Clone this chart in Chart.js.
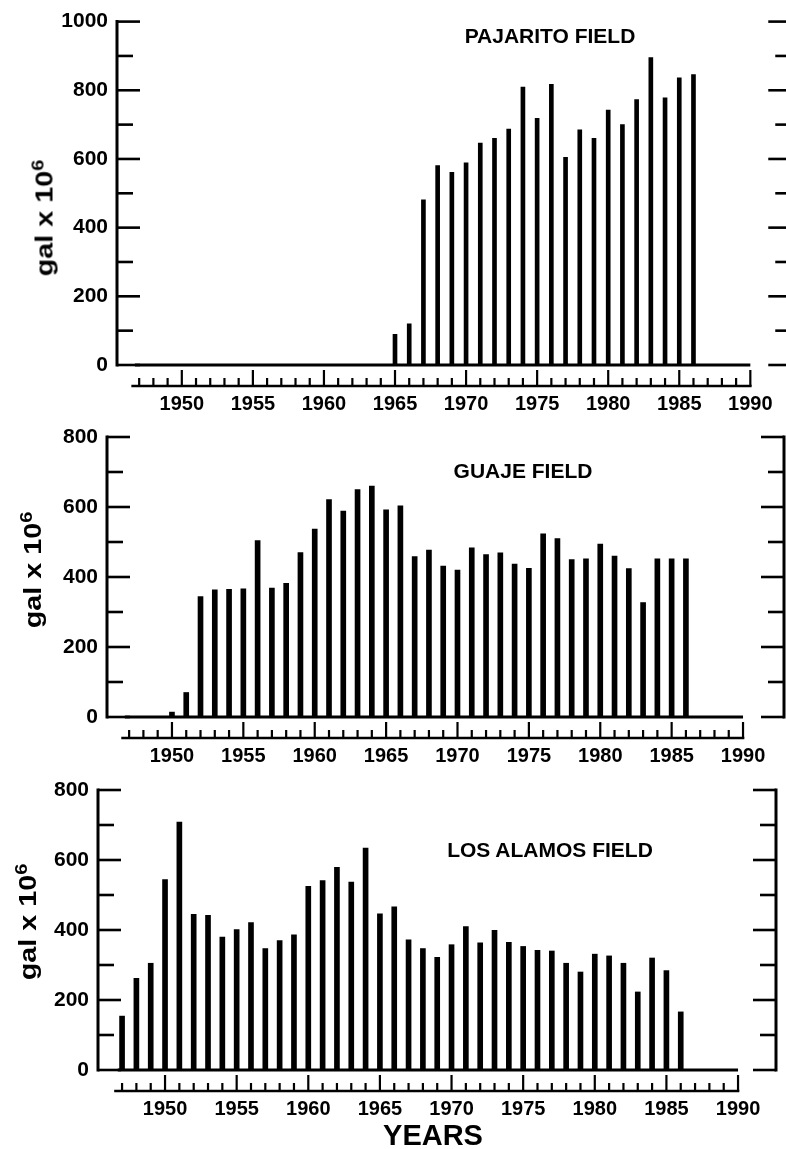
<!DOCTYPE html>
<html>
<head>
<meta charset="utf-8">
<script src="https://cdn.jsdelivr.net/npm/chart.js@4.4.1/dist/chart.umd.min.js"></script>
<style>
html,body{margin:0;padding:0;background:#fff;overflow:hidden;width:786px;height:1149px;position:relative;}
canvas{position:absolute;left:0;top:0;}
.t{position:absolute;font-family:"Liberation Sans",Arial,Helvetica,sans-serif;font-weight:bold;color:#000;white-space:nowrap;transform:translate(-50%,-50%);line-height:1;}
.ft{font-size:21px;}
.yt{font-size:23px;transform:translate(-50%,-50%) rotate(-90deg) scaleX(1.25);}
.yt sup{font-size:16px;position:relative;top:-3px;vertical-align:top;}
.xt{font-size:29px;}
</style>
</head>
<body>
<canvas id="c1" width="800" height="1149"></canvas>
<canvas id="c2" width="800" height="1149"></canvas>
<canvas id="c3" width="800" height="1149"></canvas>

<div class="t ft" style="left:550px;top:35px;">PAJARITO FIELD</div>
<div class="t ft" style="left:523px;top:470px;">GUAJE FIELD</div>
<div class="t ft" style="left:550px;top:849px;">LOS ALAMOS FIELD</div>
<div class="t yt" style="left:45px;top:218px;">gal x 10<sup>6</sup></div>
<div class="t yt" style="left:33px;top:570px;">gal x 10<sup>6</sup></div>
<div class="t yt" style="left:28px;top:922px;">gal x 10<sup>6</sup></div>
<div class="t xt" style="left:433px;top:1135px;">YEARS</div>

<script>
// ---------------- DATA ----------------
const pajaritoYears  = [1965,1966,1967,1968,1969,1970,1971,1972,1973,1974,1975,1976,1977,1978,1979,1980,1981,1982,1983,1984,1985,1986];
const pajaritoValues = [89,120,481,581,561,589,646,660,687,809,718,817,605,685,660,742,700,773,895,778,836,846];

const guajeYears  = [1950,1951,1952,1953,1954,1955,1956,1957,1958,1959,1960,1961,1962,1963,1964,1965,1966,1967,1968,1969,1970,1971,1972,1973,1974,1975,1976,1977,1978,1979,1980,1981,1982,1983,1984,1985,1986];
const guajeValues = [14,70,344,363,365,366,504,368,382,470,537,621,588,650,660,592,603,458,477,431,420,483,464,469,437,425,523,510,450,452,494,460,424,327,452,452,452];

const losAlamosYears  = [1947,1948,1949,1950,1951,1952,1953,1954,1955,1956,1957,1958,1959,1960,1961,1962,1963,1964,1965,1966,1967,1968,1969,1970,1971,1972,1973,1974,1975,1976,1977,1978,1979,1980,1981,1982,1983,1984,1985,1986];
const losAlamosValues = [154,262,305,544,708,445,442,380,401,421,347,370,386,525,541,579,537,634,446,466,372,347,322,358,410,363,399,365,353,342,340,305,280,331,326,305,223,320,284,166];

const xTickYears  = [1950,1955,1960,1965,1970,1975,1980,1985,1990];
const xTickLabels = ['1950','1955','1960','1965','1970','1975','1980','1985','1990'];
const yearTickMarks = [1947,1948,1949,1950,1951,1952,1953,1954,1955,1956,1957,1958,1959,1960,1961,1962,1963,1964,1965,1966,1967,1968,1969,1970,1971,1972,1973,1974,1975,1976,1977,1978,1979,1980,1981,1982,1983,1984,1985,1986,1987,1988,1989,1990];

const yLabels1000 = [0,200,400,600,800,1000];
const yMarks1000  = [0,100,200,300,400,500,600,700,800,900,1000];
const yLabels800  = [0,200,400,600,800];
const yMarks800   = [0,100,200,300,400,500,600,700,800];

// ---------------- DRAWING ----------------
const W = 800, H = 1149, XH = 60;
const FONT = '"Liberation Sans", Arial, Helvetica, sans-serif';

const framePlugin = {
  id: 'frame',
  afterDraw(chart, args, o) {
    const {ctx, chartArea: a, scales: {x, y}} = chart;
    const ln = (x1, y1, x2, y2) => { ctx.beginPath(); ctx.moveTo(x1, y1); ctx.lineTo(x2, y2); ctx.stroke(); };
    ctx.save();
    ctx.strokeStyle = '#000';
    ctx.lineCap = 'butt';
    // frame verticals
    ctx.lineWidth = 3;
    ln(a.left, a.top - 1.5, a.left, a.bottom + 1.5);
    ln(a.right, a.top - 1.5, a.right, a.bottom + 1.5);
    // y tick marks (inward)
    ctx.lineWidth = 2.6;
    o.yMarks.forEach(v => {
      const py = y.getPixelForValue(v);
      const len = o.yLabels.includes(v) ? 23 : 16;
      ln(a.left, py, a.left + len, py);
      ln(a.right, py, a.right - len, py);
    });
    // zero baseline
    const y0 = y.getPixelForValue(0);
    ctx.lineWidth = 2.8;
    ln(x.getPixelForValue(o.baseFrom), y0, x.getPixelForValue(o.baseTo), y0);
    // offset year axis
    const ty = y0 + o.rowOffset;
    ctx.lineWidth = 2.6;
    ln(x.getPixelForValue(o.rowFrom), ty, x.getPixelForValue(o.rowTo) + 1.3, ty);
    ctx.lineWidth = 2.2;
    yearTickMarks.forEach(yr => {
      const px = x.getPixelForValue(yr);
      const len = xTickYears.includes(yr) ? 16 : 8;
      ln(px, ty, px, ty - len);
    });
    ctx.restore();
  }
};

const panels = [
  {id: 'c1', years: pajaritoYears,  values: pajaritoValues,  yMax: 1000, yLabels: yLabels1000, yMarks: yMarks1000,
   top: 15,  base: 365,  left: 117, right: 793, xMin: 1945.44, xMax: 1992.88, bar: 4},
  {id: 'c2', years: guajeYears,     values: guajeValues,     yMax: 800,  yLabels: yLabels800,  yMarks: yMarks800,
   top: 437, base: 717,  left: 107, right: 784, xMin: 1945.45, xMax: 1992.87, bar: 5},
  {id: 'c3', years: losAlamosYears, values: losAlamosValues, yMax: 800,  yLabels: yLabels800,  yMarks: yMarks800,
   top: 790, base: 1070, left: 98,  right: 776, xMin: 1945.32, xMax: 1992.65, bar: 5}
];

panels.forEach(p => {
  new Chart(document.getElementById(p.id).getContext('2d'), {
    type: 'bar',
    data: {
      datasets: [{
        data: p.years.map((yr, i) => ({x: yr, y: p.values[i]})),
        backgroundColor: '#000',
        borderWidth: 0,
        barThickness: p.bar
      }]
    },
    options: {
      responsive: false,
      animation: false,
      devicePixelRatio: 1,
      layout: {padding: {top: p.top, bottom: H - p.base - XH, left: 0, right: W - p.right}},
      plugins: {
        legend: {display: false},
        tooltip: {enabled: false},
        frame: {yMarks: p.yMarks, yLabels: p.yLabels, baseFrom: 1946.7, baseTo: 1990, rowFrom: 1946.45, rowTo: 1990, rowOffset: 21}
      },
      scales: {
        x: {
          type: 'linear', min: p.xMin, max: p.xMax, offset: false,
          grid: {display: false, drawTicks: false},
          border: {display: false},
          afterBuildTicks: s => { s.ticks = xTickYears.map(v => ({value: v})); },
          afterFit: s => { s.height = XH; },
          ticks: {
            autoSkip: false, maxRotation: 0, minRotation: 0, padding: 27,
            color: '#000', font: {family: FONT, size: 20, weight: 'bold'},
            callback: v => { const i = xTickYears.indexOf(v); return i >= 0 ? xTickLabels[i] : ''; }
          }
        },
        y: {
          min: 0, max: p.yMax,
          grid: {display: false, drawTicks: false},
          border: {display: false},
          afterBuildTicks: s => { s.ticks = p.yLabels.map(v => ({value: v})); },
          afterFit: s => { s.width = p.left; },
          ticks: {padding: 9, color: '#000', font: {family: FONT, size: 21, weight: 'bold'},
                  callback: v => String(v)}
        }
      }
    },
    plugins: [framePlugin]
  });
});
</script>
</body>
</html>
